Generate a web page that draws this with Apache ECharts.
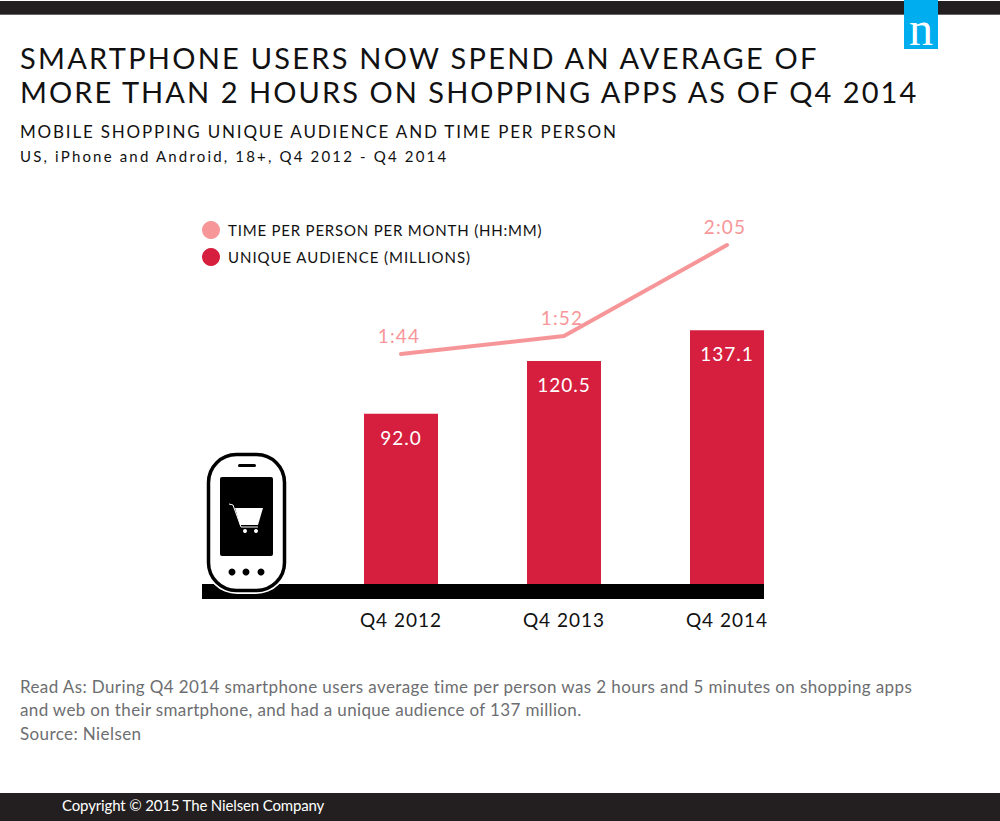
<!DOCTYPE html>
<html>
<head>
<meta charset="utf-8">
<style>html,body{margin:0;padding:0;background:#fff}#chart{width:1000px;height:821px}</style>
<script src="https://cdn.jsdelivr.net/npm/echarts@6/dist/echarts.min.js"></script>
</head>
<body>
<div id="chart"></div>
<script>
const quarters = ['Q4 2012', 'Q4 2013', 'Q4 2014'];
const audience = [92.0, 120.5, 137.1];
const timeLabels = ['1:44', '1:52', '2:05'];
// the drawn line is not to scale with its labels, so these are heights read off the picture
const timeLevels = [124.3, 134, 183.2];

const FONT = 'Lato';
const DARK = '#231f20';
const RED = '#d61f3f';
const PINK = '#f79698';
const GREY = '#6d6e71';

const TITLE_1 = 'SMARTPHONE USERS NOW SPEND AN AVERAGE OF';
const TITLE_2 = 'MORE THAN 2 HOURS ON SHOPPING APPS AS OF Q4 2014';
const SUB_1 = 'MOBILE SHOPPING UNIQUE AUDIENCE AND TIME PER PERSON';
const SUB_2 = 'US, iPhone and Android, 18+, Q4 2012 - Q4 2014';
const NOTE_1 = 'Read As: During Q4 2014 smartphone users average time per person was 2 hours and 5 minutes on shopping apps';
const NOTE_2 = 'and web on their smartphone, and had a unique audience of 137 million.';
const NOTE_3 = 'Source: Nielsen';
const COPYRIGHT = 'Copyright © 2015 The Nielsen Company';
const LEGEND_TIME = 'TIME PER PERSON PER MONTH (HH:MM)';
const LEGEND_AUDIENCE = 'UNIQUE AUDIENCE (MILLIONS)';

function text(x, y, str, size, color, weight) {
    return {
        type: 'text', x: x, y: y, z: 10,
        style: {
            text: str, fill: color, fontFamily: FONT, fontSize: size, fontWeight: weight || 400,
            verticalAlign: 'middle', align: 'left'
        }
    };
}

function rect(x, y, w, h, fill, z) {
    return { type: 'rect', z: z || 5, shape: { x: x, y: y, width: w, height: h }, style: { fill: fill } };
}

function dot(x, y, r, fill) {
    return { type: 'circle', z: 9, shape: { cx: x, cy: y, r: r }, style: { fill: fill } };
}

// phone + cart icon sitting on the base band
const phone = [
    { type: 'rect', z: 7, shape: { x: 205, y: 451, width: 83, height: 143, r: 32 }, style: { fill: '#fff' } },
    { type: 'rect', z: 8, shape: { x: 208.5, y: 454.5, width: 76, height: 136, r: 28 }, style: { fill: '#fff', stroke: '#000', lineWidth: 3.5 } },
    { type: 'rect', z: 9, shape: { x: 238, y: 464, width: 18, height: 3, r: 1.5 }, style: { fill: '#000' } },
    { type: 'rect', z: 9, shape: { x: 220, y: 477, width: 53, height: 79, r: 2 }, style: { fill: '#000' } },
    dot(232, 572, 3.5, '#000'), dot(246, 572, 3.5, '#000'), dot(261, 572, 3.5, '#000'),
    { type: 'polygon', z: 10, shape: { points: [[235, 508], [263, 508], [258, 525], [240, 525]] }, style: { fill: '#fff' } },
    { type: 'polyline', z: 10, shape: { points: [[229, 504], [233, 505], [241, 527], [258, 527]] }, style: { stroke: '#fff', lineWidth: 1, fill: null } },
    dot(245, 531, 2, '#fff'), dot(256, 531, 2, '#fff')
];

// svg renderer so the tracked-out type of the original can be set on the text nodes
let myChart = echarts.init(document.getElementById('chart'), null, { renderer: 'svg' });
const option = {
    animation: false,
    backgroundColor: '#fff',
    legend: {
        left: 202, top: 221, padding: 0, orient: 'vertical', itemGap: 9, itemWidth: 18, itemHeight: 18, icon: 'circle',
        data: [LEGEND_TIME, LEGEND_AUDIENCE],
        textStyle: { fontFamily: FONT, fontSize: 15, color: '#111', padding: [0, 0, 0, 3] }
    },
    grid: { left: 319.5, right: 191.5, top: 214, bottom: 237 },
    xAxis: {
        type: 'category', data: quarters,
        axisLine: { show: false }, axisTick: { show: false },
        axisLabel: { margin: 26, fontFamily: FONT, fontSize: 19, color: '#111' }
    },
    yAxis: { type: 'value', min: 0, max: 200, show: false, splitLine: { show: false } },
    series: [
        {
            name: LEGEND_AUDIENCE, type: 'bar', data: audience, barWidth: 74,
            itemStyle: { color: RED },
            label: {
                show: true, position: 'insideTop', distance: 14, color: '#fff',
                fontFamily: FONT, fontSize: 19,
                formatter: p => p.value.toFixed(1)
            }
        },
        {
            name: LEGEND_TIME, type: 'line', data: timeLevels,
            showSymbol: true, symbol: 'circle', symbolSize: 1, z: 4,
            lineStyle: { color: PINK, width: 4, cap: 'round', join: 'round' },
            itemStyle: { color: PINK },
            label: {
                show: true, position: 'top', distance: 9, offset: [-2, 0], color: PINK,
                fontFamily: FONT, fontSize: 19,
                formatter: p => timeLabels[p.dataIndex]
            }
        }
    ],
    graphic: [
        rect(0, 1, 1000, 13, DARK),
        rect(0, 14, 1000, 1, '#666'),
        rect(904, 0, 34, 49, '#00aeef', 6),
        { type: 'text', x: 921, y: 28, z: 10, style: { text: 'n', fill: '#fff', fontFamily: 'Liberation Serif', fontSize: 48, align: 'center', verticalAlign: 'middle' } },
        text(20, 57, TITLE_1, 29, '#111'),
        text(20, 91, TITLE_2, 29, '#111'),
        text(20, 131, SUB_1, 17, '#111'),
        text(20, 156, SUB_2, 15, '#111'),
        rect(202, 584, 562, 15, '#000'),
        text(20, 686, NOTE_1, 17, GREY),
        text(20, 709, NOTE_2, 17, GREY),
        text(20, 733, NOTE_3, 17, GREY),
        rect(0, 793, 1000, 28, DARK),
        text(62, 805, COPYRIGHT, 15, '#fff')
    ].concat(phone)
};

const tracking = new Map([
    [TITLE_1, 2.25], [TITLE_2, 2.06], [SUB_1, 1.81], [SUB_2, 2.17],
    [NOTE_1, 0.39], [NOTE_2, 0.35], [NOTE_3, 0.4], [COPYRIGHT, -0.15],
    [LEGEND_TIME, 0.8], [LEGEND_AUDIENCE, 0.95]
]);
quarters.forEach(q => tracking.set(q, 1));
timeLabels.forEach(t => tracking.set(t, 1.2));
audience.forEach(v => tracking.set(v.toFixed(1), 1));

function applyTracking() {
    document.querySelectorAll('#chart svg text').forEach(el => {
        const s = tracking.get(el.textContent);
        if (s !== undefined) el.setAttribute('letter-spacing', s);
    });
}
myChart.on('finished', applyTracking);
myChart.setOption(option);
applyTracking();
</script>
</body>
</html>
